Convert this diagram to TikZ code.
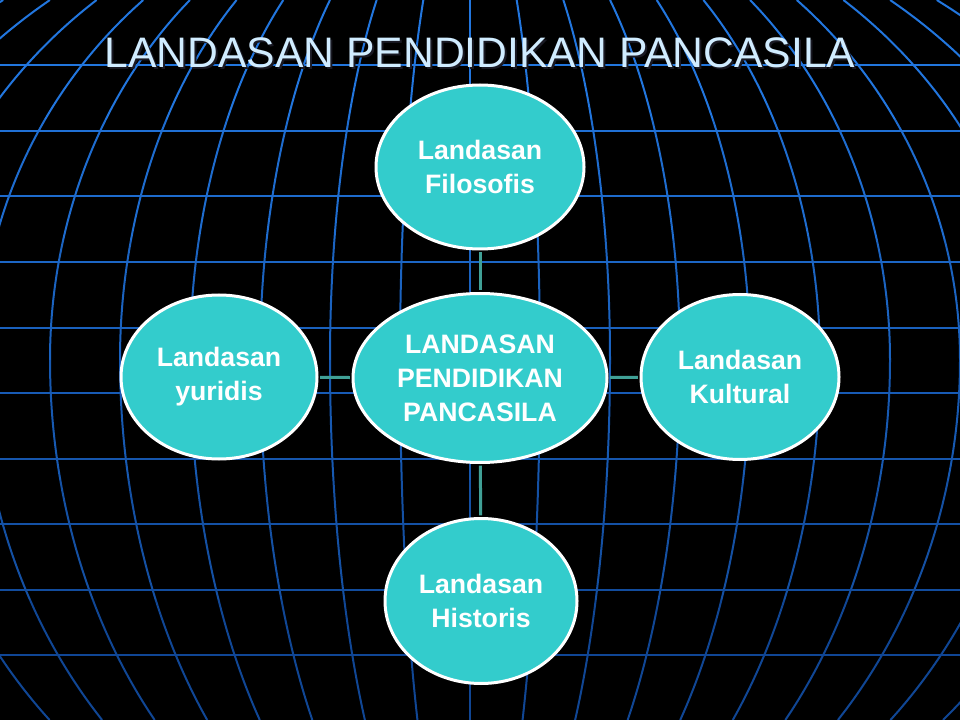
\documentclass[tikz,border=0pt]{standalone}
\usepackage{fontspec}
\setmainfont{Liberation Sans}
\usetikzlibrary{shapes.geometric}
\definecolor{gridtop}{RGB}{34,118,222}
\definecolor{gridbot}{RGB}{16,70,148}
\definecolor{bubblefill}{RGB}{51,204,204}
\definecolor{conn}{RGB}{64,160,150}
\definecolor{titlec}{RGB}{208,236,255}
\definecolor{titleshade}{RGB}{25,25,35}
\tikzset{
  bubble/.style={ellipse, draw=white, line width=2.25pt, fill=bubblefill, inner sep=0pt,
    text=white, font=\fontsize{20}{25.5}\selectfont\bfseries, align=center},
  link/.style={draw=conn, line width=2.25pt, shorten >=1.2pt, shorten <=1.2pt},
  gridline/.style={line width=1.5pt},
  titletext/.style={font=\fontsize{32}{38}\selectfont, inner sep=0pt},
}
\begin{document}
\begin{tikzpicture}[x=0.75pt,y=-0.75pt]
\useasboundingbox (0,0) rectangle (960,720);
\fill[black] (0,0) rectangle (960,720);
\begin{scope}
  \clip (0,0) rectangle (960,720);
  % meridians
  \foreach \j in {0,...,5}{
    \pgfmathsetmacro{\pct}{\j*20}
    \pgfmathsetmacro{\ya}{\j*120}
    \pgfmathsetmacro{\yb}{\j*120+120}
    \colorlet{gcol}{gridbot!\pct!gridtop}
    \foreach \k in {-10,...,10}{
      \draw[gridline, gcol] plot[smooth, domain=\ya:\yb, samples=13, variable=\t]
        ({470+(\k)*sqrt(4900-(\t<360 ? 0.021 : 0.0165)*(\t-360)*(\t-360))}, {\t});
    }
  }
  % horizontal lines
  \foreach \i in {1,...,10}{
    \pgfmathsetmacro{\yy}{65.5*\i}
    \pgfmathsetmacro{\pc}{max(0,min(100,(\yy-60)/6))}
    \colorlet{hcol}{gridbot!\pc!gridtop}
    \draw[gridline, hcol] (0,\yy) -- (960,\yy);
  }
\end{scope}

% title
\node[titletext, text=titleshade] (titleshadow) at (482,55) {LANDASAN PENDIDIKAN PANCASILA};
\node[titletext, text=titlec] (title) at (480,53) {LANDASAN PENDIDIKAN PANCASILA};

% bubbles
\node[bubble, minimum width=190.5pt, minimum height=126.75pt] (ctr) at (480,378) {LANDASAN\\PENDIDIKAN\\PANCASILA};
\node[bubble, minimum width=156pt, minimum height=123pt] (fil) at (480,167) {Landasan\\Filosofis};
\node[bubble, minimum width=147pt, minimum height=123pt] (yur) at (219,377) {Landasan\\yuridis};
\node[bubble, minimum width=148.5pt, minimum height=123.75pt] (kul) at (740,377) {Landasan\\Kultural};
\node[bubble, minimum width=144pt, minimum height=123.75pt] (his) at (481,601) {Landasan\\Historis};

% connectors
\draw[link] (fil) -- (ctr);
\draw[link] (yur) -- (ctr);
\draw[link] (ctr) -- (kul);
\draw[link] (ctr) -- (his);
\end{tikzpicture}
\end{document}
